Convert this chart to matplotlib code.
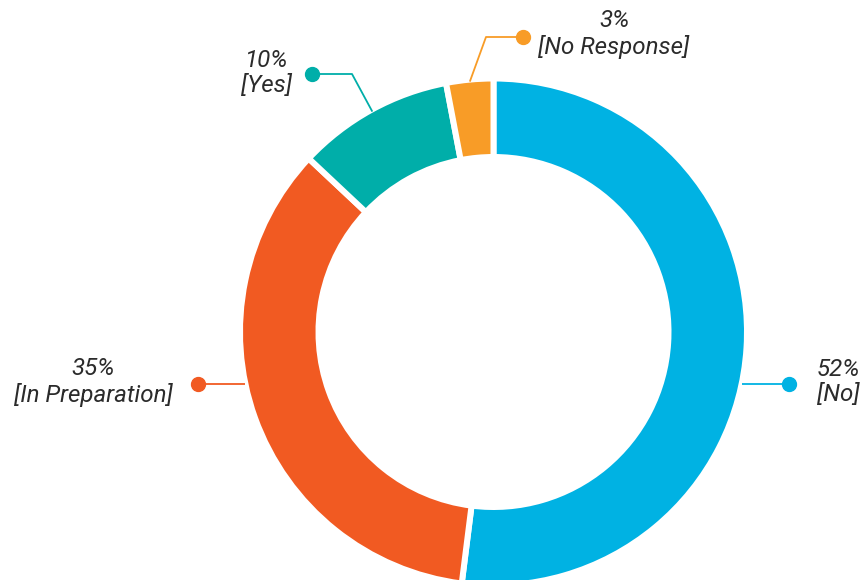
import numpy as np
import matplotlib
matplotlib.use("Agg")
import matplotlib.pyplot as plt

labels = ["No", "In Preparation", "Yes", "No Response"]
values = [52, 35, 10, 3]
colors = ["#00B2E3", "#F15A22", "#00AEA9", "#F89C27"]

# label layout (pixel coords, y downwards): dot position, elbow, text anchor
dots = [(789, 384), (198, 384), (312, 74), (523, 37)]
elbows = [None, None, (352, 74), (486, 37)]
text_pos = [(838, 382), (93, 382), (266, 73), (614, 34)]

W, H = 863, 580
fig = plt.figure(figsize=(W / 100, H / 100), dpi=100)
ax = fig.add_axes([0, 0, 1, 1])

cx, cy = 493.5, H - 332
lw_px = 6
R = 250.5 + lw_px / 2
r_in = 178 - lw_px / 2

wedges, _ = ax.pie(values, colors=colors, startangle=90, counterclock=False,
                   center=(cx, cy), radius=R,
                   wedgeprops=dict(width=R - r_in, edgecolor="white",
                                   linewidth=lw_px * 0.72))
ax.set_xlim(0, W)
ax.set_ylim(0, H)
ax.set_aspect("equal")
ax.axis("off")

plt.rcParams["font.family"] = ["Roboto", "DejaVu Sans"]

for i, w in enumerate(wedges):
    col = colors[i]
    dx, dy = dots[i]
    dy = H - dy
    if elbows[i] is None:
        yoff = dy - cy
        xe = cx + np.sign(dx - cx) * np.sqrt(R ** 2 - yoff ** 2)
        xs = [xe, dx]
        ys = [dy, dy]
    else:
        ex, ey = elbows[i]
        ey = H - ey
        mid = np.deg2rad((w.theta1 + w.theta2) / 2)
        px = cx + (R - 2) * np.cos(mid)
        py = cy + (R - 2) * np.sin(mid)
        xs = [px, ex, dx]
        ys = [py, ey, dy]
    ax.plot(xs, ys, color=col, lw=1.3, zorder=1, solid_capstyle="butt")
    ax.plot([dx], [dy], "o", color=col, ms=10, zorder=3)
    tx, ty = text_pos[i]
    ax.text(tx, H - ty, f"{values[i]}%\n[{labels[i]}]", ha="center", va="center",
            multialignment="center", fontsize=17.4, style="italic",
            color="#2b2b2b", linespacing=1.12)

fig.savefig("out.png", dpi=100)
